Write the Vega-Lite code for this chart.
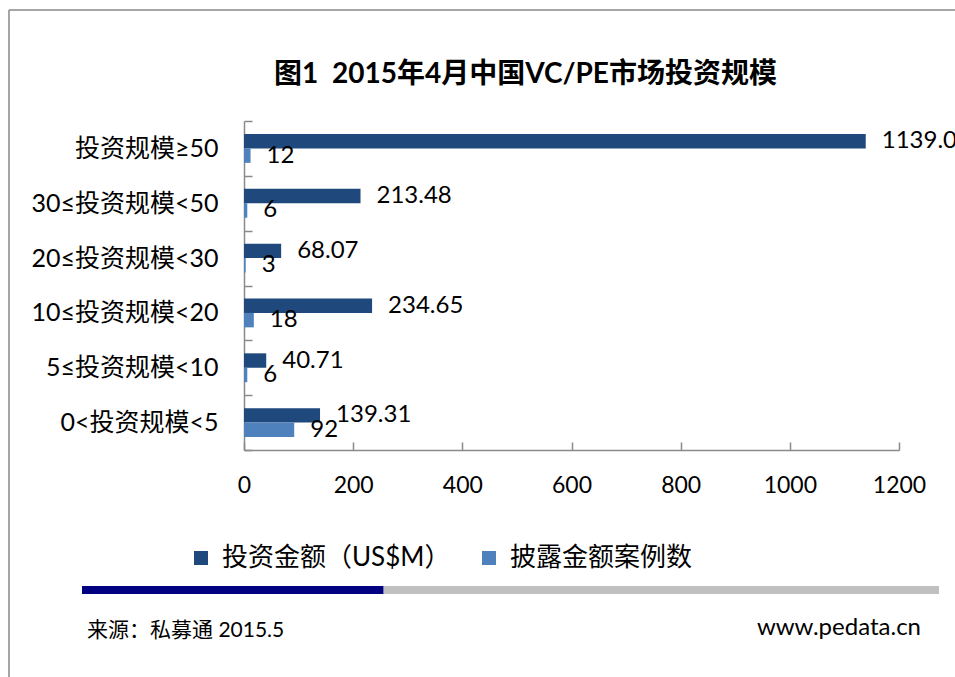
{
  "$schema": "https://vega.github.io/schema/vega-lite/v6.json",
  "background": "white",
  "padding": {"left": 8, "top": 9, "right": 0, "bottom": 0},
  "autosize": {"type": "pad"},
  "title": {
    "text": "图1\u00a0\u00a02015年4月中国VC/PE市场投资规模",
    "fontSize": 28,
    "fontWeight": "bold",
    "color": "#000000",
    "anchor": "middle",
    "frame": "group",
    "dx": -46,
    "offset": -80
  },
  "bounds": "flush",
  "spacing": 136,
  "resolve": {"scale": {"x": "independent", "color": "independent"}, "legend": {"color": "independent"}},
  "vconcat": [
    {
      "width": 655,
      "height": 329,
      "data": {
        "values": [
          {"category": "投资规模≥50", "series": "投资金额（US$M）", "value": 1139.06},
          {"category": "投资规模≥50", "series": "披露金额案例数", "value": 12},
          {"category": "30≤投资规模<50", "series": "投资金额（US$M）", "value": 213.48},
          {"category": "30≤投资规模<50", "series": "披露金额案例数", "value": 6},
          {"category": "20≤投资规模<30", "series": "投资金额（US$M）", "value": 68.07},
          {"category": "20≤投资规模<30", "series": "披露金额案例数", "value": 3},
          {"category": "10≤投资规模<20", "series": "投资金额（US$M）", "value": 234.65},
          {"category": "10≤投资规模<20", "series": "披露金额案例数", "value": 18},
          {"category": "5≤投资规模<10", "series": "投资金额（US$M）", "value": 40.71},
          {"category": "5≤投资规模<10", "series": "披露金额案例数", "value": 6},
          {"category": "0<投资规模<5", "series": "投资金额（US$M）", "value": 139.31},
          {"category": "0<投资规模<5", "series": "披露金额案例数", "value": 92}
        ]
      },
      "encoding": {
        "y": {
          "field": "category",
          "type": "nominal",
          "sort": ["投资规模≥50", "30≤投资规模<50", "20≤投资规模<30", "10≤投资规模<20", "5≤投资规模<10", "0<投资规模<5"],
          "scale": {"paddingInner": 0, "paddingOuter": 0},
          "title": null,
          "axis": {
            "tickBand": "extent",
            "tickSize": -8,
            "labelFontSize": 25,
            "labelPadding": 34,
            "labelLimit": 0,
            "labelColor": "#000000",
            "domainColor": "#8a8a8a",
            "tickColor": "#8a8a8a",
            "domainWidth": 1.5,
            "tickWidth": 1.5
          }
        },
        "yOffset": {
          "field": "series",
          "type": "nominal",
          "sort": ["投资金额（US$M）", "披露金额案例数"],
          "scale": {"paddingInner": 0, "paddingOuter": 0.9}
        },
        "x": {
          "field": "value",
          "type": "quantitative",
          "scale": {"domain": [0, 1200], "nice": false},
          "title": null,
          "axis": {
            "values": [0, 200, 400, 600, 800, 1000, 1200],
            "format": "d",
            "tickSize": -8,
            "labelFontSize": 23,
            "labelPadding": 32,
            "labelFlush": false,
            "labelColor": "#000000",
            "domainColor": "#8a8a8a",
            "tickColor": "#8a8a8a",
            "domainWidth": 1.5,
            "tickWidth": 1.5,
            "grid": false
          }
        }
      },
      "layer": [
        {
          "mark": {"type": "bar"},
          "encoding": {
            "color": {
              "field": "series",
              "type": "nominal",
              "scale": {"domain": ["投资金额（US$M）", "披露金额案例数"], "range": ["#1F497D", "#4F81BD"]},
              "legend": {
                "orient": "none",
                "legendX": -56,
                "legendY": 424,
                "direction": "horizontal",
                "title": null,
                "symbolType": "square",
                "symbolSize": 196,
                "symbolStrokeWidth": 0,
                "labelFontSize": 26,
                "labelLimit": 0,
                "labelColor": "#000000",
                "labelOffset": 8,
                "columnPadding": 25
              }
            }
          }
        },
        {
          "transform": [{"filter": "datum.series == '投资金额（US$M）'"}],
          "mark": {"type": "text", "align": "left", "baseline": "middle", "dx": 16, "fontSize": 24, "color": "#000000"},
          "encoding": {"text": {"field": "value", "type": "quantitative", "format": ".2f"}}
        },
        {
          "transform": [{"filter": "datum.series == '披露金额案例数'"}],
          "mark": {"type": "text", "align": "left", "baseline": "middle", "dx": 16, "fontSize": 24, "color": "#000000"},
          "encoding": {"text": {"field": "value", "type": "quantitative", "format": "d"}}
        }
      ]
    },
    {
      "width": 655,
      "height": 8,
      "layer": [
        {
          "data": {"values": [{"part": "done", "start": 0, "end": 35.2}, {"part": "rest", "start": 35.2, "end": 100}]},
          "mark": {"type": "rect"},
          "encoding": {
            "x": {"field": "start", "type": "quantitative", "scale": {"domain": [0, 100], "range": [-162, 695]}, "axis": null},
            "x2": {"field": "end"},
            "color": {"field": "part", "type": "nominal", "scale": {"domain": ["done", "rest"], "range": ["#000080", "#C0C0C0"]}, "legend": null}
          }
        },
        {
          "data": {"values": [{"note": "来源：私募通 2015.5"}]},
          "mark": {"type": "text", "align": "left", "baseline": "middle", "dx": 5, "dy": 41, "fontSize": 21, "color": "#000000"},
          "encoding": {"x": {"datum": 0, "type": "quantitative"}, "text": {"field": "note"}}
        },
        {
          "data": {"values": [{"note": "www.pedata.cn"}]},
          "mark": {"type": "text", "align": "right", "baseline": "middle", "dx": -18, "dy": 38, "fontSize": 24, "color": "#000000"},
          "encoding": {"x": {"datum": 100, "type": "quantitative"}, "text": {"field": "note"}}
        },
        {
          "data": {"values": [{"edge": "frame"}]},
          "mark": {"type": "rule", "color": "#888888", "strokeWidth": 1.5},
          "encoding": {
            "x": {"datum": -8.52, "type": "quantitative"},
            "y": {"datum": 0, "type": "quantitative", "scale": {"domain": [0, 1], "range": [-576, 92]}, "axis": null},
            "y2": {"datum": 1}
          }
        },
        {
          "data": {"values": [{"edge": "frame"}]},
          "mark": {"type": "rule", "color": "#888888", "strokeWidth": 1.5},
          "encoding": {
            "x": {"datum": -8.52, "type": "quantitative"},
            "x2": {"datum": 102},
            "y": {"datum": 0, "type": "quantitative"}
          }
        }
      ]
    }
  ],
  "config": {
    "font": "Lato, Noto Sans CJK SC",
    "view": {"stroke": null},
    "axis": {"grid": false}
  }
}
